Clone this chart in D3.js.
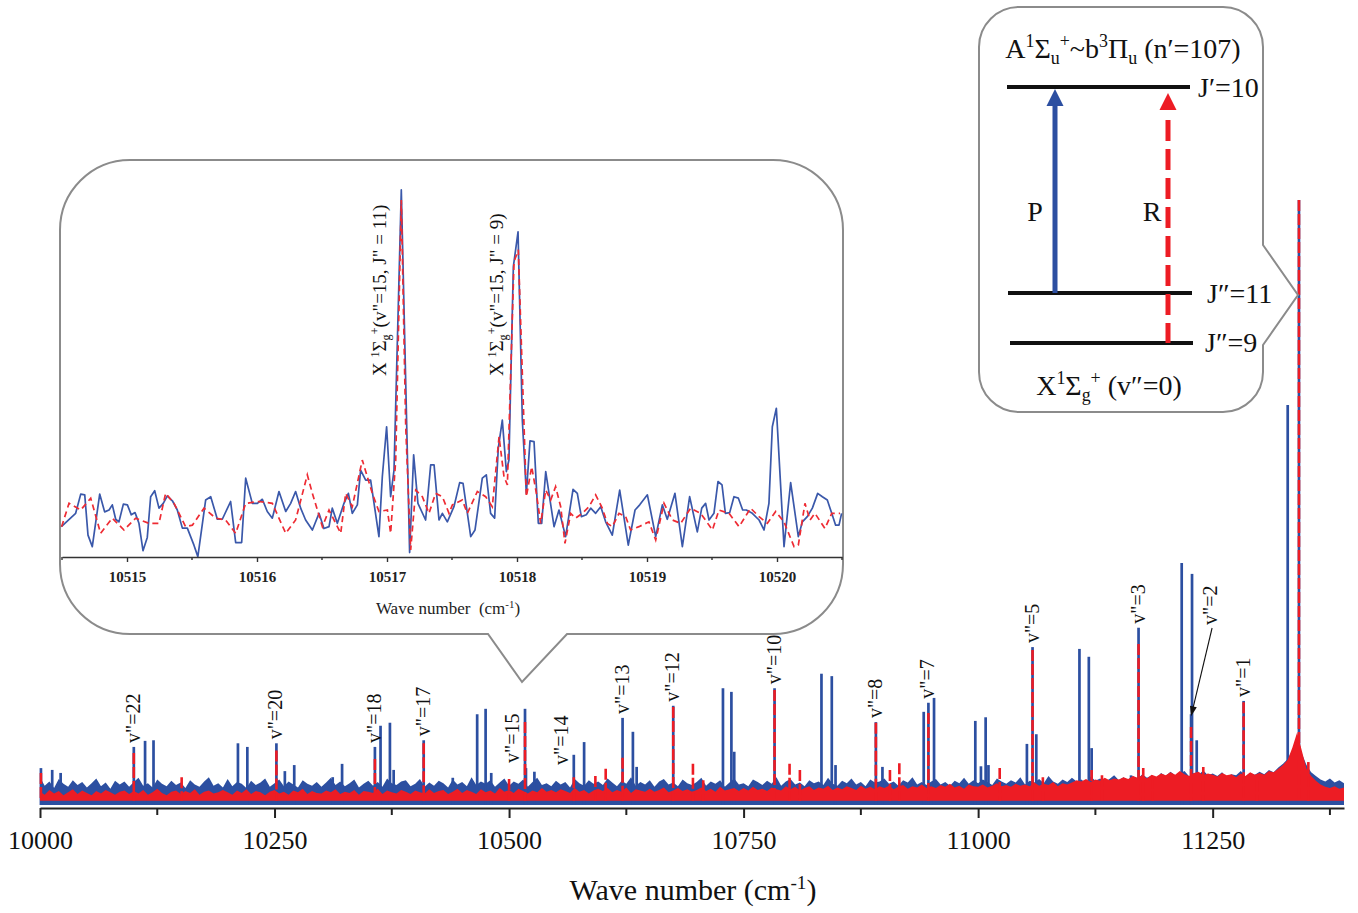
<!DOCTYPE html>
<html>
<head>
<meta charset="utf-8">
<script src="https://cdn.jsdelivr.net/npm/d3@7"></script>
<style>
  html, body { margin: 0; background: #fff; }
  svg { display: block; font-family: "Liberation Serif", "Times New Roman", serif; }
  text { white-space: pre; }
</style>
</head>
<body>
<svg id="chart" width="1358" height="913"></svg>
<script>
// ---------------- data ----------------
// Noise floor of the full spectrum, sampled every 5 cm-1 from 10000 cm-1 (arb. units, max peak = 100)
const noiseStart = 10000;
const noiseStep = 5;
const blueNoiseTop = [
  4.6, 3.2, 3.9, 2.8, 4.3, 3.5, 3.0, 4.1, 3.3, 3.8,
  2.9, 3.6, 4.4, 3.1, 3.7, 2.7, 4.0, 3.4, 3.9, 3.0,
  3.8, 4.5, 3.2, 3.6, 2.9, 4.2, 3.5, 3.1, 4.0, 3.3,
  3.7, 2.8, 4.1, 3.4, 3.0, 3.9, 4.6, 3.2, 3.6, 2.9,
  4.3, 3.1, 3.8, 3.5, 2.8, 4.0, 3.3, 3.7, 4.4, 3.0,
  3.6, 4.2, 3.1, 3.9, 3.4, 2.9, 4.1, 3.5, 3.2, 3.8,
  3.0, 3.7, 4.5, 3.3, 3.9, 3.1, 3.6, 4.2, 2.9, 3.5,
  4.0, 3.2, 3.8, 3.0, 4.4, 3.6, 3.3, 3.9, 4.1, 3.1,
  3.5, 4.3, 3.0, 3.7, 3.2, 4.0, 3.6, 2.9, 4.2, 3.4,
  3.8, 3.1, 4.6, 3.3, 3.9, 3.5, 4.1, 3.0, 3.7, 4.4,
  3.2, 3.9, 3.5, 4.2, 3.0, 3.8, 4.5, 3.3, 3.6, 3.1,
  4.0, 3.4, 3.8, 2.9, 4.3, 3.6, 3.2, 4.1, 3.5, 3.9,
  3.3, 4.4, 3.7, 3.1, 4.0, 3.5, 4.6, 3.2, 3.8, 3.4,
  4.1, 3.0, 3.9, 4.3, 3.4, 3.7, 3.1, 4.2, 3.6, 3.3,
  3.8, 4.5, 3.2, 3.9, 3.5, 4.1, 3.0, 3.7, 4.4, 3.4,
  3.6, 3.1, 4.2, 3.8, 3.3, 4.0, 3.5, 4.6, 3.2, 3.9,
  4.3, 3.4, 3.7, 3.1, 4.1, 3.6, 3.9, 3.3, 4.5, 3.5,
  3.2, 4.0, 3.6, 4.4, 3.4, 3.8, 3.1, 4.2, 3.7, 3.9,
  4.4, 3.5, 3.9, 3.2, 4.1, 3.7, 4.6, 3.4, 3.8, 3.3,
  3.9, 4.3, 3.4, 3.8, 3.2, 4.0, 3.6, 4.5, 3.5, 4.1,
  3.6, 4.2, 3.8, 3.3, 4.4, 3.9, 3.5, 4.1, 3.7, 4.6,
  3.4, 4.0, 3.7, 4.3, 3.6, 4.8, 3.9, 3.5, 4.2, 3.8,
  4.5, 3.9, 4.2, 3.6, 4.7, 4.0, 4.4, 3.8, 4.3, 4.9,
  4.1, 4.6, 4.0, 4.8, 4.3, 5.1, 4.5, 4.9, 4.4, 5.3,
  4.8, 5.5, 4.9, 5.2, 5.6, 4.7, 5.3, 5.0, 5.7, 4.9,
  5.2, 4.8, 5.4, 4.6, 5.1, 4.9, 5.6, 4.7, 5.3, 5.0,
  5.5, 5.1, 5.8, 5.4, 6.2, 6.8, 7.6, 9.0, 11.0, 8.5,
  6.6, 5.4, 4.8, 4.2, 3.9, 4.4, 3.7, 4.1, 3.6
];
const redNoiseTop = [
  2.2, 1.7, 2.5, 1.9, 2.3, 1.6, 2.1, 2.6, 1.8, 2.4,
  2.0, 1.6, 2.3, 1.9, 2.5, 2.1, 1.7, 2.2, 2.4, 1.8,
  2.3, 1.9, 2.5, 1.7, 2.1, 2.7, 2.0, 1.6, 2.2, 2.4,
  1.8, 2.3, 2.0, 2.6, 1.7, 2.2, 2.4, 1.9, 2.1, 2.5,
  2.1, 1.7, 2.4, 2.0, 2.6, 1.8, 2.3, 2.1, 1.6, 2.2,
  2.5, 1.9, 2.2, 1.7, 2.4, 2.1, 2.7, 1.8, 2.3, 2.0,
  1.9, 2.4, 2.1, 2.6, 1.8, 2.2, 2.0, 2.5, 1.7, 2.3,
  2.2, 2.0, 2.7, 1.8, 2.4, 2.1, 1.9, 2.5, 2.2, 1.8,
  2.4, 2.1, 1.9, 2.6, 2.0, 2.3, 2.5, 1.8, 2.2, 2.7,
  2.0, 2.5, 2.2, 1.8, 2.6, 2.1, 2.4, 1.9, 2.8, 2.2,
  2.5, 2.0, 2.7, 2.3, 1.9, 2.4, 2.1, 2.8, 2.2, 2.5,
  2.1, 2.6, 2.3, 2.0, 2.8, 2.2, 2.5, 1.9, 2.4, 2.7,
  2.3, 2.8, 2.1, 2.5, 2.2, 2.9, 2.0, 2.6, 2.4, 2.2,
  2.7, 2.2, 2.5, 2.9, 2.1, 2.4, 2.8, 2.3, 2.6, 2.2,
  2.5, 2.9, 2.3, 2.7, 2.2, 3.0, 2.4, 2.6, 2.8, 2.3,
  2.8, 2.4, 3.0, 2.5, 2.7, 2.3, 2.9, 2.6, 2.4, 3.1,
  2.6, 3.0, 2.4, 2.8, 3.1, 2.5, 2.9, 2.7, 3.2, 2.5,
  2.9, 2.6, 3.1, 2.8, 2.5, 3.2, 2.7, 3.0, 2.6, 3.1,
  2.8, 3.2, 2.6, 3.0, 3.3, 2.7, 3.1, 2.9, 3.4, 2.8,
  3.1, 2.8, 3.3, 3.0, 3.5, 2.9, 3.2, 2.7, 3.4, 3.1,
  3.0, 3.4, 2.9, 3.2, 3.6, 3.1, 3.3, 3.0, 3.5, 3.2,
  3.4, 3.1, 3.7, 3.2, 3.5, 3.3, 3.8, 3.1, 3.6, 3.4,
  3.7, 4.1, 3.9, 4.3, 3.8, 4.2, 4.0, 4.5, 4.1, 4.4,
  4.2, 4.6, 4.3, 4.8, 4.5, 4.9, 4.4, 5.0, 4.7, 5.2,
  4.9, 5.4, 5.0, 5.6, 5.1, 4.8, 5.3, 5.5, 4.9, 5.2,
  5.0, 4.7, 5.3, 4.9, 5.1, 4.6, 5.2, 4.8, 5.4, 5.0,
  5.3, 5.0, 5.6, 5.4, 6.0, 6.6, 7.5, 9.5, 12.0, 9.0,
  6.0, 4.8, 4.0, 3.4, 3.0, 2.8, 3.1, 2.7, 2.9
];
const redNoiseFloor = 0.7;

// Resolved lines: [wave number (cm-1), intensity]
const bluePeaks = [
  [10001, 6.1], [10013, 5.8], [10022, 5.3], [10100, 9.6], [10112, 10.6], [10121, 10.7],
  [10211, 10.2], [10221, 9.6], [10252, 10.2], [10261, 5.6], [10271, 6.6], [10312, 4.6],
  [10322, 6.8], [10357, 9.6], [10363, 13.1], [10373, 13.6], [10377, 5.8], [10409, 10.7],
  [10440, 4.5], [10466, 15.0], [10475, 15.9], [10481, 5.3], [10517, 15.9], [10518, 6.1],
  [10527, 5.5], [10569, 8.3], [10580, 10.4], [10621, 14.4], [10632, 12.1], [10636, 6.3],
  [10675, 16.4], [10728, 19.3], [10737, 18.7], [10740, 8.8], [10783, 19.3], [10833, 21.7],
  [10844, 21.3], [10848, 6.6], [10891, 13.7], [10898, 6.3], [10942, 15.4], [10947, 16.9],
  [10953, 17.7], [10997, 13.9], [11003, 6.4], [11008, 14.5], [11011, 6.6], [11052, 10.1],
  [11058, 26.1], [11062, 11.7], [11108, 25.8], [11118, 24.5], [11121, 9.4], [11163, 4.9],
  [11171, 29.3], [11217, 40.0], [11227, 15.0], [11228, 38.2], [11233, 10.7], [11283, 17.2],
  [11330, 66.1], [11342, 100]
];
const redPeaks = [
  [10001, 5.3], [10100, 8.6], [10151, 4.6], [10252, 9.0], [10357, 7.6], [10409, 10.2],
  [10500, 4.3], [10517, 13.7], [10569, 4.6], [10592, 4.8], [10603, 6.0], [10621, 7.8],
  [10675, 16.2], [10696, 6.8], [10707, 4.1], [10783, 19.0], [10799, 6.8], [10810, 5.8],
  [10891, 13.6], [10906, 5.8], [10916, 6.9], [10947, 15.2], [11023, 6.1], [11058, 25.6],
  [11069, 4.6], [11121, 5.8], [11132, 4.9], [11171, 26.6], [11176, 6.1], [11186, 4.6],
  [11227, 12.9], [11240, 6.3], [11283, 17.0], [11297, 4.1], [11342, 100], [11352, 7.1]
];

const mainTicks = [10000, 10250, 10500, 10750, 11000, 11250];
const mainMinorTicks = [10125, 10375, 10625, 10875, 11125, 11375];

// Vibrational assignments of the X state lines
const vLabels = ["22", "20", "18", "17", "15", "14", "13", "12", "10", "8", "7", "5", "3", "2", "1"];
const vWaves  = [10100, 10252, 10357, 10409, 10517, 10569, 10621, 10675, 10783, 10891, 10947, 11058, 11171, 11227, 11283];

// Expanded view around the v''=15 lines
const insetBlue = [
  [10514.495, 8.2], [10514.605, 11.8], [10514.644, 17.0], [10514.675, 16.8], [10514.700, 5.9],
  [10514.733, 2.8], [10514.790, 17.0], [10514.828, 12.2], [10514.862, 12.7], [10514.887, 14.1],
  [10514.913, 10.2], [10514.938, 9.5], [10514.972, 14.3], [10515.003, 14.1], [10515.033, 11.4],
  [10515.062, 12.0], [10515.092, 9.1], [10515.123, 1.7], [10515.156, 5.3], [10515.182, 16.3],
  [10515.213, 17.9], [10515.246, 13.2], [10515.279, 14.5], [10515.310, 16.5], [10515.349, 15.2],
  [10515.387, 12.7], [10515.426, 7.8], [10515.464, 7.8], [10515.515, 3.2], [10515.545, 0.1],
  [10515.605, 15.4], [10515.644, 16.3], [10515.695, 10.2], [10515.733, 10.2], [10515.797, 15.0],
  [10515.836, 3.9], [10515.882, 3.9], [10515.913, 21.3], [10515.964, 14.5], [10516.003, 14.5],
  [10516.041, 15.6], [10516.079, 12.3], [10516.118, 10.5], [10516.169, 17.7], [10516.221, 12.3],
  [10516.259, 14.5], [10516.297, 17.7], [10516.336, 13.2], [10516.374, 10.0], [10516.426, 7.3],
  [10516.477, 11.8], [10516.515, 7.7], [10516.554, 8.2], [10516.579, 13.2], [10516.618, 9.1],
  [10516.669, 14.5], [10516.703, 17.2], [10516.733, 11.8], [10516.772, 14.1], [10516.797, 23.5],
  [10516.836, 20.8], [10516.874, 20.8], [10516.938, 5.5], [10516.964, 21.7], [10516.997, 35.2],
  [10517.028, 16.3], [10517.054, 23.5], [10517.110, 99.2], [10517.174, 1.2], [10517.205, 27.6],
  [10517.238, 14.5], [10517.297, 10.0], [10517.336, 24.9], [10517.362, 24.9], [10517.400, 10.0],
  [10517.426, 11.8], [10517.464, 9.5], [10517.515, 13.6], [10517.559, 20.1], [10517.585, 19.9],
  [10517.644, 5.5], [10517.677, 7.3], [10517.733, 21.3], [10517.764, 22.2], [10517.797, 11.8],
  [10517.828, 10.5], [10517.856, 29.4], [10517.887, 37.0], [10517.918, 23.1], [10517.938, 26.2],
  [10517.972, 78.5], [10518.008, 87.9], [10518.041, 37.0], [10518.072, 17.2], [10518.100, 31.4],
  [10518.131, 31.2], [10518.164, 9.1], [10518.190, 9.1], [10518.221, 23.1], [10518.285, 8.2],
  [10518.323, 12.7], [10518.374, 5.5], [10518.431, 18.3], [10518.464, 17.2], [10518.495, 10.9],
  [10518.533, 11.4], [10518.567, 13.2], [10518.605, 11.8], [10518.644, 13.6], [10518.682, 9.5],
  [10518.733, 5.9], [10518.790, 18.1], [10518.856, 3.2], [10518.908, 12.7], [10518.944, 14.1],
  [10519.003, 16.8], [10519.067, 5.5], [10519.118, 14.1], [10519.156, 10.2], [10519.215, 17.2],
  [10519.272, 2.8], [10519.328, 16.3], [10519.387, 6.8], [10519.421, 13.2], [10519.451, 14.5],
  [10519.477, 10.0], [10519.515, 11.8], [10519.546, 20.4], [10519.577, 19.5], [10519.603, 11.8],
  [10519.636, 12.0], [10519.669, 16.3], [10519.703, 15.9], [10519.736, 12.7], [10519.764, 12.7],
  [10519.810, 11.8], [10519.862, 10.0], [10519.900, 7.3], [10519.938, 14.5], [10519.964, 35.2],
  [10519.995, 40.2], [10520.054, 2.8], [10520.105, 20.1], [10520.164, 5.5], [10520.195, 9.5],
  [10520.233, 10.9], [10520.272, 13.2], [10520.313, 17.2], [10520.349, 16.3], [10520.387, 15.4],
  [10520.421, 11.8], [10520.451, 8.6], [10520.477, 8.6], [10520.497, 11.8]
];
const insetRed = [
  [10514.497, 8.2], [10514.554, 14.5], [10514.644, 12.7], [10514.721, 15.9], [10514.797, 6.4],
  [10514.887, 10.5], [10514.977, 7.3], [10515.067, 10.5], [10515.169, 9.1], [10515.246, 9.1],
  [10515.297, 17.2], [10515.362, 14.5], [10515.451, 8.2], [10515.503, 8.6], [10515.592, 13.2],
  [10515.682, 10.5], [10515.759, 10.0], [10515.836, 6.4], [10515.913, 14.5], [10516.015, 15.0],
  [10516.118, 14.5], [10516.221, 6.4], [10516.297, 10.0], [10516.387, 22.2], [10516.426, 17.2],
  [10516.503, 8.2], [10516.554, 12.7], [10516.644, 6.4], [10516.682, 17.2], [10516.733, 13.6],
  [10516.810, 26.2], [10516.887, 17.2], [10516.938, 12.3], [10517.003, 12.7], [10517.028, 6.4],
  [10517.067, 26.2], [10517.110, 96.5], [10517.144, 35.2], [10517.182, 1.9], [10517.221, 18.1],
  [10517.272, 16.3], [10517.323, 11.8], [10517.374, 17.2], [10517.426, 16.3], [10517.477, 11.8],
  [10517.503, 14.1], [10517.579, 15.4], [10517.618, 11.8], [10517.695, 17.7], [10517.759, 16.3],
  [10517.810, 13.6], [10517.862, 32.5], [10517.900, 21.7], [10517.926, 19.5], [10517.977, 79.8],
  [10518.010, 83.0], [10518.046, 44.2], [10518.072, 16.3], [10518.113, 24.4], [10518.149, 17.2],
  [10518.182, 9.1], [10518.221, 18.1], [10518.259, 15.4], [10518.297, 19.0], [10518.336, 13.6],
  [10518.369, 3.7], [10518.413, 11.8], [10518.451, 10.5], [10518.503, 11.8], [10518.554, 13.6],
  [10518.605, 16.8], [10518.656, 13.2], [10518.695, 9.1], [10518.733, 8.2], [10518.785, 11.8],
  [10518.836, 10.9], [10518.874, 7.3], [10518.938, 8.2], [10519.015, 9.5], [10519.067, 4.6],
  [10519.131, 14.5], [10519.195, 10.0], [10519.259, 9.1], [10519.336, 13.2], [10519.413, 11.8],
  [10519.503, 7.3], [10519.554, 12.7], [10519.631, 11.8], [10519.708, 8.2], [10519.797, 13.2],
  [10519.862, 10.9], [10519.926, 9.1], [10519.990, 12.3], [10520.054, 9.5], [10520.131, 2.8],
  [10520.164, 3.2], [10520.215, 14.5], [10520.254, 10.0], [10520.292, 11.8], [10520.369, 7.7],
  [10520.421, 11.8], [10520.485, 11.8]
];
const insetTicks = [10515, 10516, 10517, 10518, 10519, 10520];
const insetMinorTicks = [10514.5, 10515.5, 10516.5, 10517.5, 10518.5, 10519.5, 10520.5];

// ---------------- drawing ----------------
const BLUE = "#2c4fa1";
const RED = "#ed1c24";
const GREY = "#8b8b8b";
const svg = d3.select("#chart");

// writes a label made of normal / superscript / subscript runs
function rich(sel, parts, size) {
  let cur = 0;
  parts.forEach(p => {
    const [str, kind] = Array.isArray(p) ? p : [p, null];
    const shift = kind === "sup" ? -0.38 * size : kind === "sub" ? 0.22 * size : 0;
    sel.append("tspan")
      .attr("dy", (shift - cur).toFixed(2))
      .attr("font-size", kind ? size * 0.64 : size)
      .text(str);
    cur = shift;
  });
  return sel;
}

// ---- full spectrum ----
const x = d3.scaleLinear().domain([10000, 11390]).range([40, 1344]);
const y = d3.scaleLinear().domain([0, 100]).range([805, 200]);

const noiseWave = i => noiseStart + i * noiseStep;
const spec = svg.append("g");

spec.append("path")
  .datum(blueNoiseTop)
  .attr("fill", BLUE)
  .attr("d", d3.area().x((d, i) => x(noiseWave(i))).y0(y(0)).y1(d => y(d)));

const stick = d3.line().x(d => x(d[0])).y(d => y(d[1]));

spec.append("g").selectAll("path")
  .data(bluePeaks).join("path")
  .attr("d", d => stick([[d[0], 0], d]))
  .attr("stroke", BLUE).attr("stroke-width", 2.7).attr("fill", "none");

spec.append("path")
  .datum(redNoiseTop)
  .attr("fill", RED)
  .attr("d", d3.area().x((d, i) => x(noiseWave(i))).y0(y(redNoiseFloor)).y1(d => y(d)));

spec.append("g").selectAll("path")
  .data(redPeaks).join("path")
  .attr("d", d => stick([d, [d[0], redNoiseFloor]]))
  .attr("stroke", RED).attr("stroke-width", 2.6).attr("fill", "none")
  .attr("stroke-dasharray", "11,3");

// bottom axis
const axisY = 808;
const axisG = svg.append("g").attr("transform", `translate(0,${axisY})`)
  .call(d3.axisBottom(x).tickValues(mainTicks).tickFormat(d3.format("d"))
    .tickSize(10).tickSizeOuter(0).tickPadding(13));
axisG.select(".domain").attr("stroke", "#222").attr("stroke-width", 2);
axisG.selectAll(".tick line").attr("stroke", "#222").attr("stroke-width", 2);
axisG.selectAll(".tick text").attr("font-size", 26).attr("fill", "#111")
  .attr("font-family", "Liberation Serif");
axisG.selectAll(".minor").data(mainMinorTicks).join("line")
  .attr("class", "minor")
  .attr("x1", d => x(d)).attr("x2", d => x(d))
  .attr("y1", 0).attr("y2", 7)
  .attr("stroke", "#222").attr("stroke-width", 2);

rich(svg.append("text").attr("x", 693).attr("y", 900).attr("text-anchor", "middle").attr("fill", "#111"),
  ["Wave number (cm", ["-1", "sup"], ")"], 30);

// vibrational labels above the lines
const peakTop = w => {
  const hits = bluePeaks.concat(redPeaks).filter(p => p[0] === w);
  return d3.max(hits, p => p[1]);
};
const besideLine = { "15": 763, "14": 765 };
vLabels.forEach((v, i) => {
  const w = vWaves[i];
  const px = x(w);
  let tx, ty;
  if (v === "2") {
    tx = px + 26; ty = 625;
  } else if (besideLine[v] !== undefined) {
    tx = px - 6; ty = besideLine[v];
  } else {
    tx = px + 6; ty = y(peakTop(w)) - 4;
  }
  svg.append("text")
    .attr("transform", `translate(${tx},${ty}) rotate(-90)`)
    .attr("font-size", 20).attr("fill", "#111")
    .text(`v"=${v}`);
  if (v === "2") {
    const tipY = y(peakTop(w)) + 2;
    const sx = tx - 5, sy = ty + 3;
    const ang = Math.atan2(tipY - sy, px - sx);
    svg.append("line").attr("x1", sx).attr("y1", sy)
      .attr("x2", px - 6 * Math.cos(ang)).attr("y2", tipY - 6 * Math.sin(ang))
      .attr("stroke", "#111").attr("stroke-width", 1.1);
    const L = 10, W = 3.5;
    const bx = px - L * Math.cos(ang), by = tipY - L * Math.sin(ang);
    svg.append("path")
      .attr("d", `M${px},${tipY} L${bx + W * Math.sin(ang)},${by - W * Math.cos(ang)} L${bx - W * Math.sin(ang)},${by + W * Math.cos(ang)} Z`)
      .attr("fill", "#111");
  }
});

// ---- callout with the expanded view ----
(function () {
  const x0 = 60, x1 = 843, y0 = 160, y1 = 634, r = 70;
  const tip = [x(10517) - 3, 682];
  svg.append("path")
    .attr("d", `M${x0 + r},${y0} H${x1 - r} A${r},${r} 0 0 1 ${x1},${y0 + r} V${y1 - r}
      A${r},${r} 0 0 1 ${x1 - r},${y1} H${tip[0] + 45} L${tip[0]},${tip[1]} L${tip[0] - 34},${y1}
      H${x0 + r} A${r},${r} 0 0 1 ${x0},${y1 - r} V${y0 + r} A${r},${r} 0 0 1 ${x0 + r},${y0} Z`)
    .attr("fill", "#fff").attr("stroke", GREY).attr("stroke-width", 2);
})();

const xi = d3.scaleLinear().domain([10514.5, 10520.5]).range([62, 842]);
const yi = d3.scaleLinear().domain([0, 100]).range([557, 187]);
const insetLine = d3.line().x(d => xi(d[0])).y(d => yi(d[1]));

svg.append("path").datum(insetBlue).attr("d", insetLine)
  .attr("fill", "none").attr("stroke", "#3a58aa").attr("stroke-width", 1.7)
  .attr("stroke-linejoin", "round");
svg.append("path").datum(insetRed).attr("d", insetLine)
  .attr("fill", "none").attr("stroke", "#ee2b33").attr("stroke-width", 1.7)
  .attr("stroke-dasharray", "6,4");

const iAxis = svg.append("g").attr("transform", "translate(0,557)")
  .call(d3.axisBottom(xi).tickValues(insetTicks).tickFormat(d3.format("d"))
    .tickSize(5).tickSizeOuter(0).tickPadding(9));
iAxis.select(".domain").attr("stroke", "#333").attr("stroke-width", 1.6);
iAxis.selectAll(".tick line").attr("stroke", "#333").attr("stroke-width", 1.4);
iAxis.selectAll(".tick text").attr("font-size", 15).attr("font-weight", "bold")
  .attr("fill", "#222").attr("font-family", "Liberation Serif");
iAxis.selectAll(".minor").data(insetMinorTicks).join("line")
  .attr("class", "minor")
  .attr("x1", d => xi(d)).attr("x2", d => xi(d)).attr("y1", 0).attr("y2", 3)
  .attr("stroke", "#333").attr("stroke-width", 1.4);

rich(svg.append("text").attr("x", 448).attr("y", 614).attr("text-anchor", "middle").attr("fill", "#222"),
  ["Wave number  (cm", ["-1", "sup"], ")"], 17);

[["11", 10517.11], ["9", 10518.01]].forEach(([J, w]) => {
  rich(svg.append("text")
      .attr("transform", `translate(${xi(w) - 15},376) rotate(-90)`)
      .attr("fill", "#111"),
    ["X ", ["1", "sup"], "Σ", ["g", "sub"], ["+", "sup"], `(v"=15, J" = ${J})`], 19);
});

// ---- energy level scheme ----
(function () {
  const x0 = 979, x1 = 1263, y0 = 7, y1 = 412, r = 40;
  const tip = [x(11342) - 1, 295];
  svg.append("path")
    .attr("d", `M${x0 + r},${y0} H${x1 - r} A${r},${r} 0 0 1 ${x1},${y0 + r} V${tip[1] - 50}
      L${tip[0]},${tip[1]} L${x1},${tip[1] + 50} V${y1 - r} A${r},${r} 0 0 1 ${x1 - r},${y1}
      H${x0 + r} A${r},${r} 0 0 1 ${x0},${y1 - r} V${y0 + r} A${r},${r} 0 0 1 ${x0 + r},${y0} Z`)
    .attr("fill", "#fff").attr("stroke", GREY).attr("stroke-width", 2);

  const fs = 28;
  const g = svg.append("g").attr("fill", "#111");
  rich(g.append("text").attr("x", 1123).attr("y", 58).attr("text-anchor", "middle"),
    ["A", ["1", "sup"], "Σ", ["u", "sub"], ["+", "sup"], "~b", ["3", "sup"], "Π", ["u", "sub"], " (n′=107)"], fs);
  rich(g.append("text").attr("x", 1109).attr("y", 395).attr("text-anchor", "middle"),
    ["X", ["1", "sup"], "Σ", ["g", "sub"], ["+", "sup"], " (v″=0)"], fs);

  const levels = [
    { x1: 1007, x2: 1190, y: 87, label: "J′=10", lx: 1198, ly: 97 },
    { x1: 1008, x2: 1192, y: 293, label: "J″=11", lx: 1207, ly: 303 },
    { x1: 1010, x2: 1193, y: 343, label: "J″=9", lx: 1205, ly: 352 }
  ];
  levels.forEach(l => {
    svg.append("line").attr("x1", l.x1).attr("x2", l.x2).attr("y1", l.y).attr("y2", l.y)
      .attr("stroke", "#111").attr("stroke-width", 4);
    g.append("text").attr("x", l.lx).attr("y", l.ly).attr("font-size", fs).text(l.label);
  });

  // P branch (solid) and R branch (dashed) transitions
  svg.append("line").attr("x1", 1055).attr("x2", 1055).attr("y1", 293).attr("y2", 104)
    .attr("stroke", BLUE).attr("stroke-width", 5);
  svg.append("path").attr("d", "M1055,89 L1063.5,106 L1046.5,106 Z").attr("fill", BLUE);
  svg.append("line").attr("x1", 1168).attr("x2", 1168).attr("y1", 120).attr("y2", 343)
    .attr("stroke", RED).attr("stroke-width", 5).attr("stroke-dasharray", "21,8");
  svg.append("path").attr("d", "M1168,93 L1176.5,110 L1159.5,110 Z").attr("fill", RED);

  g.append("text").attr("x", 1035).attr("y", 221).attr("text-anchor", "middle").attr("font-size", fs).text("P");
  g.append("text").attr("x", 1152).attr("y", 221).attr("text-anchor", "middle").attr("font-size", fs).text("R");
})();
</script>
</body>
</html>
